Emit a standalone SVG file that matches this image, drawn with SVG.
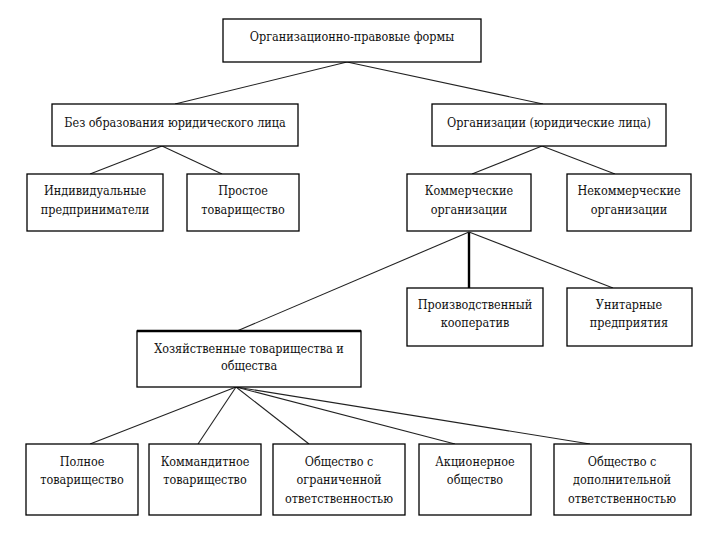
<svg xmlns="http://www.w3.org/2000/svg" width="720" height="540" viewBox="0 0 720 540">
<style>
.box{fill:#fff;stroke:#000;stroke-width:1.3}
.t{font-family:'DejaVu Serif Condensed','DejaVu Serif',serif;font-stretch:condensed;font-size:12.5px;fill:#111;text-anchor:middle}
.c{stroke:#222;stroke-width:1.1;fill:none}
.ct{stroke:#000;stroke-width:2.4;fill:none}
</style>
<rect width="720" height="540" fill="#fff"/>
<g id="connectors">
<line class="c" x1="347" y1="62" x2="175" y2="104"/>
<line class="c" x1="347" y1="62" x2="543" y2="104"/>
<line class="c" x1="162" y1="146" x2="90" y2="174"/>
<line class="c" x1="162" y1="146" x2="222" y2="174"/>
<line class="c" x1="542" y1="146" x2="472" y2="174"/>
<line class="c" x1="542" y1="146" x2="615" y2="174"/>
<line class="ct" x1="469" y1="232" x2="469" y2="288"/>
<line class="c" x1="469" y1="232" x2="613" y2="288"/>
<line class="c" x1="469" y1="232" x2="237" y2="331"/>
<line class="c" x1="236" y1="387" x2="90" y2="444"/>
<line class="c" x1="236" y1="387" x2="198" y2="444"/>
<line class="c" x1="236" y1="387" x2="309" y2="444"/>
<line class="c" x1="236" y1="387" x2="455" y2="444" stroke-width="1.6"/>
<line class="c" x1="236" y1="387" x2="590" y2="444" stroke-width="1.6"/>
</g>
<g id="root"><rect class="box" x="223" y="19" width="258" height="43"/><text class="t" x="352" y="41">Организационно-правовые формы</text></g>
<g id="no-legal"><rect class="box" x="52" y="104" width="246" height="42"/><text class="t" x="175" y="127">Без образования юридического лица</text></g>
<g id="legal"><rect class="box" x="432" y="104" width="234" height="42"/><text class="t" x="549" y="127">Организации (юридические лица)</text></g>
<g id="individual"><rect class="box" x="27" y="174" width="136" height="57"/><text class="t" x="95" y="195">Индивидуальные</text><text class="t" x="95" y="214">предприниматели</text></g>
<g id="simple"><rect class="box" x="187" y="174" width="112" height="57"/><text class="t" x="243" y="195">Простое</text><text class="t" x="243" y="214">товарищество</text></g>
<g id="commercial"><rect class="box" x="407" y="174" width="124" height="57"/><text class="t" x="469" y="195">Коммерческие</text><text class="t" x="469" y="214">организации</text></g>
<g id="noncommercial"><rect class="box" x="567" y="174" width="124" height="57"/><text class="t" x="629" y="195">Некоммерческие</text><text class="t" x="629" y="214">организации</text></g>
<g id="coop"><rect class="box" x="407" y="288" width="136" height="58"/><text class="t" x="475" y="309">Производственный</text><text class="t" x="475" y="327">кооператив</text></g>
<g id="unitary"><rect class="box" x="567" y="288" width="125" height="58"/><text class="t" x="629" y="309">Унитарные</text><text class="t" x="629" y="327">предприятия</text></g>
<g id="business"><rect class="box" x="137" y="331" width="224" height="56"/><line x1="137" y1="331" x2="361" y2="331" stroke="#000" stroke-width="2.4"/><text class="t" x="249" y="353">Хозяйственные товарищества и</text><text class="t" x="249" y="370">общества</text></g>
<g id="full"><rect class="box" x="26" y="444" width="112" height="71"/><text class="t" x="82" y="466">Полное</text><text class="t" x="82" y="484">товарищество</text></g>
<g id="limited-partnership"><rect class="box" x="149" y="444" width="112" height="71"/><text class="t" x="205" y="466">Коммандитное</text><text class="t" x="205" y="484">товарищество</text></g>
<g id="llc"><rect class="box" x="273" y="444" width="132" height="71"/><text class="t" x="339" y="466">Общество с</text><text class="t" x="339" y="484">ограниченной</text><text class="t" x="339" y="503">ответственностью</text></g>
<g id="jsc"><rect class="box" x="419" y="444" width="112" height="71"/><text class="t" x="475" y="466">Акционерное</text><text class="t" x="475" y="484">общество</text></g>
<g id="alc"><rect class="box" x="554" y="444" width="137" height="71"/><text class="t" x="622" y="466">Общество с</text><text class="t" x="622" y="484">дополнительной</text><text class="t" x="622" y="503">ответственностью</text></g>
</svg>
